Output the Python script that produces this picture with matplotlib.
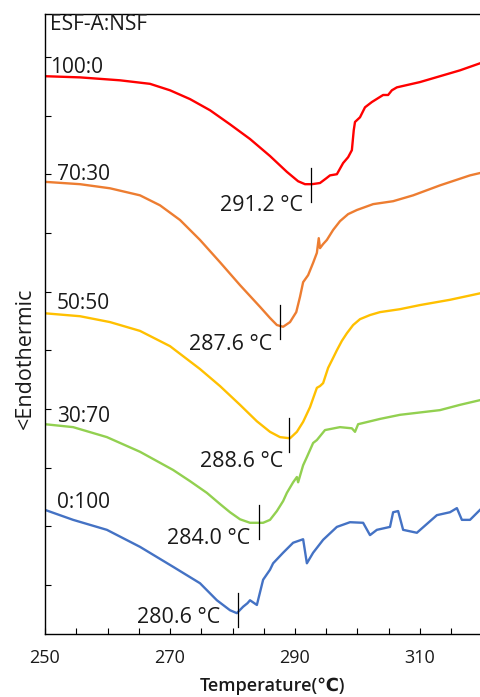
import matplotlib
matplotlib.use("Agg")
import matplotlib.pyplot as plt

plt.rcParams['font.family'] = ['Open Sans', 'DejaVu Sans']

# composition labels and curve colours
names = ['100:0', '70:30', '50:50', '30:70', '0:100']
colors = ['#FF0000', '#ED7D31', '#FFC000', '#92D050', '#4472C4']

# DSC curves (temperature in C, heat flow in arbitrary offset units)
t_red = [250.0, 255.6, 262.0, 266.8, 270.0, 273.2, 276.4, 279.6, 282.8, 286.0, 288.7, 290.5,
         291.6, 292.7, 294.0, 295.0, 295.6, 296.7, 297.7, 298.5, 299.1, 299.4, 299.6, 300.4,
         301.2, 302.3, 304.1, 304.9, 305.5, 306.3, 310.0, 313.2, 316.4, 319.6]
y_red = [8.67, 8.65, 8.60, 8.54, 8.43, 8.28, 8.09, 7.85, 7.60, 7.31, 7.04, 6.88,
         6.83, 6.83, 6.85, 6.93, 6.98, 7.00, 7.19, 7.29, 7.41, 7.75, 7.89, 7.97,
         8.14, 8.23, 8.35, 8.35, 8.43, 8.48, 8.57, 8.67, 8.77, 8.89]

t_orange = [250.0, 255.6, 260.4, 265.2, 268.4, 271.6, 274.8, 278.0, 281.2, 284.4, 286.0, 287.1,
            288.1, 289.2, 290.2, 290.8, 291.3, 292.1, 292.9, 293.5, 293.8, 294.0, 294.5, 295.1,
            296.1, 297.2, 298.5, 299.9, 302.5, 305.7, 308.9, 313.2, 318.0, 319.6]
y_orange = [6.87, 6.83, 6.76, 6.64, 6.47, 6.22, 5.88, 5.50, 5.11, 4.74, 4.55, 4.43,
            4.40, 4.48, 4.65, 4.91, 5.16, 5.28, 5.49, 5.66, 5.91, 5.74, 5.81, 5.88,
            6.05, 6.20, 6.32, 6.39, 6.49, 6.54, 6.64, 6.81, 6.98, 7.02]

t_yellow = [250.0, 255.6, 260.4, 265.2, 270.0, 274.8, 278.0, 281.2, 283.9, 286.0, 287.6, 289.2,
            290.3, 291.3, 292.4, 293.5, 294.0, 294.5, 295.3, 296.1, 296.7, 297.5, 298.3, 299.3,
            300.4, 302.0, 303.6, 306.8, 310.0, 314.8, 319.6]
y_yellow = [4.63, 4.58, 4.48, 4.33, 4.07, 3.68, 3.39, 3.07, 2.79, 2.61, 2.52, 2.50,
            2.61, 2.78, 3.03, 3.36, 3.39, 3.44, 3.70, 3.87, 4.00, 4.16, 4.29, 4.43,
            4.53, 4.60, 4.65, 4.70, 4.77, 4.86, 4.97]

t_green = [250.0, 254.5, 259.9, 265.2, 270.5, 273.2, 275.9, 278.0, 279.6, 281.2, 282.8, 284.9,
           286.0, 287.1, 288.1, 288.7, 289.7, 290.3, 290.5, 291.3, 291.9, 292.9, 293.5, 294.8,
           297.2, 299.1, 299.6, 300.1, 303.6, 306.8, 313.2, 316.4, 319.6]
y_green = [2.74, 2.69, 2.52, 2.27, 1.96, 1.77, 1.57, 1.38, 1.24, 1.12, 1.06, 1.06,
           1.11, 1.26, 1.43, 1.57, 1.75, 1.84, 1.75, 2.04, 2.18, 2.42, 2.47, 2.64,
           2.69, 2.67, 2.61, 2.74, 2.83, 2.90, 2.98, 3.07, 3.15]

t_blue = [250.0, 254.5, 259.9, 265.2, 270.5, 274.8, 277.5, 279.6, 280.7, 281.7, 282.4, 282.8,
          283.9, 284.9, 286.0, 286.5, 288.1, 289.7, 291.3, 291.9, 292.9, 294.5, 296.7, 298.8,
          300.9, 302.0, 303.1, 305.2, 305.7, 306.5, 307.3, 309.5, 312.7, 314.8, 315.9, 316.7,
          318.0, 319.6]
y_blue = [1.28, 1.11, 0.94, 0.65, 0.31, 0.03, -0.26, -0.43, -0.48, -0.37, -0.31, -0.26,
          -0.34, 0.09, 0.26, 0.37, 0.55, 0.72, 0.78, 0.37, 0.55, 0.77, 0.99, 1.07,
          1.06, 0.85, 0.94, 0.99, 1.24, 1.26, 0.94, 0.89, 1.19, 1.24, 1.31, 1.11,
          1.11, 1.28]

curves_t = [t_red, t_orange, t_yellow, t_green, t_blue]
curves_y = [y_red, y_orange, y_yellow, y_green, y_blue]

# peak markers and their labels
peak_labels = ['291.2 °C', '287.6 °C', '288.6 °C', '284.0 °C', '280.6 °C']
peak_t = [292.6, 287.6, 289.0, 284.2, 280.9]
peak_y = [6.81, 4.48, 2.55, 1.08, -0.43]

# layout: label right edge (x) and vertical centre (y) for peak labels
lab_x = [291.3, 286.3, 288.1, 282.8, 278.0]
lab_y = [6.47, 4.09, 2.10, 0.80, -0.55]
name_y = [8.72, 6.90, 4.70, 2.78, 1.31]
name_x = [250.8, 251.9, 251.9, 251.9, 251.9]

fig = plt.figure(figsize=(4.8, 6.97), dpi=100)
ax = fig.add_axes([45 / 480, 63 / 697, 435 / 480, 620 / 697])

for t, y, c in zip(curves_t, curves_y, colors):
    ax.plot(t, y, color=c, lw=1.7)

txt = '#1a1a1a'
for i in range(5):
    ax.plot([peak_t[i], peak_t[i]], [peak_y[i] - 0.29, peak_y[i] + 0.29], color='black', lw=0.9)
    ax.text(lab_x[i], lab_y[i], peak_labels[i], ha='right', va='center', fontsize=15.5, color=txt)
    ax.text(name_x[i], name_y[i], names[i], ha='left', va='baseline', fontsize=15, color=txt)

ax.text(250.8, 9.45, 'ESF-A:NSF', ha='left', va='baseline', fontsize=15, color=txt)

ax.set_xlim(250, 319.6)
ax.set_ylim(-0.835, 9.73)
ax.set_xticks(range(250, 320, 5))
ax.set_xticklabels([str(v) if v % 20 == 10 else '' for v in range(250, 320, 5)])
ax.set_yticks(range(0, 10))
ax.set_yticklabels([])
ax.tick_params(direction='in', length=4, width=0.8, labelsize=13, pad=11, labelcolor=txt)
ax.spines['right'].set_visible(False)
for s in ['left', 'top', 'bottom']:
    ax.spines[s].set_linewidth(1.0)

ax.set_xlabel('Temperature(℃)', fontsize=13, fontweight='semibold', color=txt)
ax.xaxis.set_label_coords(0.524, -0.07)
ax.set_ylabel('<Endothermic', fontsize=15.5, color=txt)
ax.yaxis.set_label_coords(-0.02, 0.445)

fig.savefig('out.png', dpi=100)
